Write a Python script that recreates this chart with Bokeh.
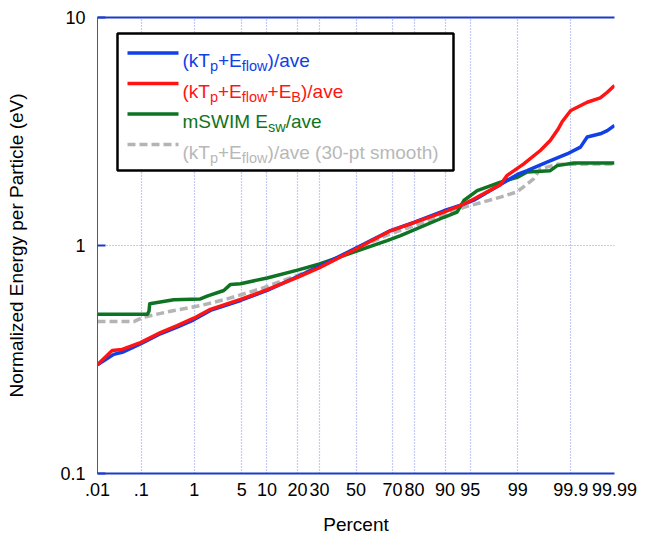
import math
from statistics import NormalDist
from bokeh.plotting import figure
from bokeh.models import (Range1d, FixedTicker, CustomJSTickFormatter, LinearAxis,
                          BoxAnnotation, Label, Arrow)
from bokeh.embed import file_html
from bokeh.resources import INLINE

# ---------------- data ----------------
tick_pcts = [0.01, 0.1, 1, 5, 10, 20, 30, 50, 70, 80, 90, 95, 99, 99.9, 99.99]
tick_labels = [".01", ".1", "1", "5", "10", "20", "30", "50", "70", "80", "90", "95", "99", "99.9", "99.99"]
y_ticks = [0.1, 1, 10]
y_tick_labels = ["0.1", "1", "10"]

blue_pct = [0.01, 0.0246, 0.0384, 0.0965, 0.245, 0.504, 0.98, 1.81, 4.83, 10.06, 20, 30, 50,
            69.0, 80, 89.7, 93.96, 95.5, 98.12, 98.99, 99.31, 99.70, 99.88, 99.938, 99.956,
            99.978, 99.985, 99.99]
blue_val = [0.30, 0.333, 0.34, 0.37, 0.41, 0.438, 0.472, 0.519, 0.574, 0.635, 0.73, 0.81, 0.975,
            1.163, 1.265, 1.42, 1.52, 1.58, 1.85, 2.05, 2.13, 2.32, 2.52, 2.70, 2.99,
            3.09, 3.19, 3.36]

red_pct = [0.01, 0.0226, 0.0384, 0.0965, 0.245, 0.504, 0.98, 1.81, 4.83, 10.06, 20, 30, 50,
           69.0, 89.7, 93.96, 95.5, 98.12, 98.52, 99.21, 99.60, 99.74, 99.82, 99.85, 99.90,
           99.956, 99.978, 99.985, 99.99]
red_val = [0.30, 0.346, 0.35, 0.375, 0.415, 0.445, 0.48, 0.525, 0.58, 0.64, 0.725, 0.80, 0.965,
           1.16, 1.40, 1.52, 1.60, 1.85, 2.03, 2.28, 2.61, 2.89, 3.25, 3.50, 3.91,
           4.25, 4.44, 4.70, 5.03]

green_pct = [0.01, 0.135, 0.145, 0.150, 0.437, 1.26, 1.61, 2.86, 3.55, 4.83, 10.06, 20, 30,
             48.7, 67.3, 73.9, 89.7, 92.7, 93.96, 95.94, 98.12, 98.98, 99.31, 99.74, 99.81,
             99.914, 99.99]
green_val = [0.50, 0.50, 0.515, 0.555, 0.578, 0.583, 0.60, 0.635, 0.675, 0.68, 0.72, 0.78, 0.83,
             0.935, 1.05, 1.106, 1.33, 1.40, 1.575, 1.74, 1.895, 1.99, 2.10, 2.13, 2.24,
             2.30, 2.30]

gray_pct = [0.01, 0.0694, 0.113, 0.380, 1.26, 3.19, 8.47, 20, 30, 50, 69.0, 89.7, 93.96,
            98.12, 98.98, 99.47, 99.60, 99.81, 99.99]
gray_val = [0.464, 0.464, 0.485, 0.515, 0.545, 0.583, 0.646, 0.74, 0.81, 0.97, 1.125, 1.354, 1.47,
            1.63, 1.72, 1.96, 2.17, 2.27, 2.28]

BLUE = "#1040e6"
RED = "#ff1414"
GREEN = "#0e7424"
GRAY = "#b4b4b4"
GRAY_TXT = "#b8b8b8"
AXIS_BLUE = "#1a3cc8"
GRID_BLUE = "#8797ee"
FONT = "Liberation Sans"

ND = NormalDist()


def probit(p):
    return ND.inv_cdf(p / 100.0)


tick_z = [probit(p) for p in tick_pcts]
xmin, xmax = tick_z[0], tick_z[-1]

# ---------------- figure ----------------
W, H = 649, 539
ML, MR, MT, MB = 97, 35, 17, 66
FW, FH = W - ML - MR, H - MT - MB

p = figure(width=W, height=H, x_range=Range1d(xmin, xmax), y_range=Range1d(0.1, 10),
           y_axis_type="log", output_backend="svg", toolbar_location=None,
           min_border_left=ML, min_border_right=MR, min_border_top=MT, min_border_bottom=MB)
p.outline_line_color = None
p.background_fill_color = "white"

# x axis (probability scale)
p.xaxis.ticker = FixedTicker(ticks=tick_z)
p.xaxis.formatter = CustomJSTickFormatter(args=dict(zs=tick_z, labels=tick_labels), code="""
    let best = 0, bd = 1e9;
    for (let i = 0; i < zs.length; i++) { const d = Math.abs(zs[i] - tick); if (d < bd) { bd = d; best = i; } }
    return labels[best];
""")
p.xaxis.axis_label = "Percent"
p.xaxis.axis_line_color = AXIS_BLUE
p.xaxis.axis_line_width = 2
p.xaxis.major_tick_line_color = None
p.xaxis.minor_tick_line_color = None
p.xaxis.major_label_standoff = 3
p.xaxis.axis_label_standoff = 15

# y axis (log)
p.yaxis.ticker = FixedTicker(ticks=y_ticks)
p.yaxis.formatter = CustomJSTickFormatter(args=dict(vs=y_ticks, labels=y_tick_labels), code="""
    let best = 0, bd = 1e9;
    for (let i = 0; i < vs.length; i++) { const d = Math.abs(Math.log10(vs[i]) - Math.log10(tick)); if (d < bd) { bd = d; best = i; } }
    return labels[best];
""")
p.yaxis.axis_label = "Normalized Energy per Particle (eV)"
p.yaxis.axis_line_color = "#3355dd"
p.yaxis.axis_line_width = 1
p.yaxis.major_tick_in = 8
p.yaxis.major_tick_out = 0
p.yaxis.major_tick_line_color = AXIS_BLUE
p.yaxis.major_tick_line_width = 2
p.yaxis.minor_tick_line_color = None
p.yaxis.major_label_standoff = 12
p.yaxis.axis_label_standoff = 30

for ax in (p.xaxis, p.yaxis):
    ax.major_label_text_font = FONT
    ax.major_label_text_font_size = "18px"
    ax.major_label_text_color = "black"
    ax.axis_label_text_font = FONT
    ax.axis_label_text_font_size = "19px"
    ax.axis_label_text_font_style = "normal"
    ax.axis_label_text_color = "black"

# top border
top = LinearAxis(ticker=FixedTicker(ticks=[]), axis_line_color=AXIS_BLUE, axis_line_width=2,
                 major_tick_line_color=None, minor_tick_line_color=None,
                 major_label_text_font_size="0px", major_label_standoff=0)
p.add_layout(top, "above")

# grids
p.xgrid.grid_line_color = GRID_BLUE
p.xgrid.grid_line_dash = "1 2"
p.xgrid.grid_line_width = 1.2
p.ygrid.grid_line_color = GRID_BLUE
p.ygrid.grid_line_dash = "1 2"
p.ygrid.grid_line_width = 1.2

# ---------------- curves ----------------
LW = 3.5
p.line([probit(v) for v in gray_pct], gray_val, line_color=GRAY, line_width=LW, line_dash="8 4")
p.line([probit(v) for v in green_pct], green_val, line_color=GREEN, line_width=LW, line_join="round")
p.line([probit(v) for v in blue_pct], blue_val, line_color=BLUE, line_width=LW, line_join="round")
p.line([probit(v) for v in red_pct], red_val, line_color=RED, line_width=LW, line_join="round")


# ---------------- legend (manual, to get subscripts) ----------------
def fx(px):  # frame pixel -> data x
    return xmin + px / FW * (xmax - xmin)


def fy(py):  # frame pixel (from top) -> data y
    return 10 ** (1 - 2 * py / FH)


ARIAL = {'(': 333, ')': 333, 'k': 500, 'T': 611, 'p': 556, '+': 584, 'E': 667, 'f': 278,
         'l': 222, 'o': 556, 'w': 722, '/': 278, 'a': 556, 'v': 500, 'e': 556, 'B': 667,
         'm': 833, 'S': 667, 'W': 944, 'I': 278, 'M': 833, ' ': 278, 's': 500, '3': 556,
         '0': 556, '-': 333, 't': 278, 'h': 556}


def tw(s, size):
    return sum(ARIAL.get(c, 556) for c in s) * size / 1000.0


MAIN, SUB, SUBDROP = 19, 14.5, 5.5

p.add_layout(BoxAnnotation(left=fx(20), right=fx(356), top=fy(16), bottom=fy(153),
                           fill_color="white", fill_alpha=1, line_color="black",
                           line_alpha=1, line_width=2.5))

rows = [
    (BLUE, BLUE, None, [("(kT", 0), ("p", 1), ("+E", 0), ("flow", 1), (")/ave", 0)]),
    (RED, RED, None, [("(kT", 0), ("p", 1), ("+E", 0), ("flow", 1), ("+E", 0), ("B", 1), (")/ave", 0)]),
    (GREEN, GREEN, None, [("mSWIM E", 0), ("sw", 1), ("/ave", 0)]),
    (GRAY, GRAY_TXT, "8 4", [("(kT", 0), ("p", 1), ("+E", 0), ("flow", 1), (")/ave (30-pt smooth)", 0)]),
]
row_line_y = [35.5, 66, 96.5, 127]
for (lc, tc, dash, pieces), ly in zip(rows, row_line_y):
    kw = dict(line_color=lc, line_width=LW)
    if dash:
        kw["line_dash"] = dash
    p.add_layout(Arrow(end=None, x_start=fx(30), y_start=fy(ly), x_end=fx(81), y_end=fy(ly), **kw))
    base = ly + 7.5
    cx = 85.0
    for txt, sub in pieces:
        size = SUB if sub else MAIN
        yy = base + (SUBDROP if sub else 0)
        p.add_layout(Label(x=fx(cx), y=fy(yy), text=txt, text_font=FONT,
                           text_font_size=f"{size}px", text_color=tc,
                           text_baseline="alphabetic", text_align="left"))
        cx += tw(txt, size)

open("out.html", "w").write(file_html(p, INLINE))
